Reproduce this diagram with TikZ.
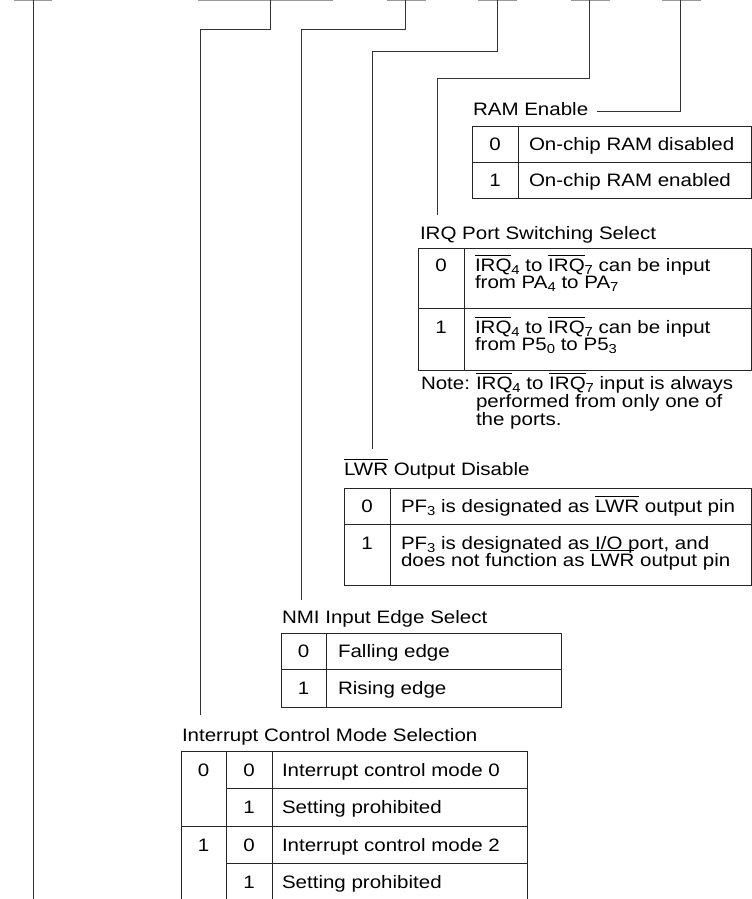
\documentclass[tikz,border=0pt]{standalone}
\usepackage{fontspec}
\setmainfont[FakeStretch=1.14]{Liberation Sans}
\newcommand\ovl[1]{\leavevmode\vbox{\hrule height 0.8bp\kern 3bp\hbox{#1}}}
\newcommand\sbs[1]{\raisebox{-3.2bp}{\fontsize{13bp}{13bp}\selectfont #1}}
\begin{document}
\begin{tikzpicture}[x=1bp,y=-1bp,
  font=\fontsize{18bp}{20bp}\selectfont,
  txt/.style={anchor=base west,inner sep=0pt,outer sep=0pt},
  num/.style={anchor=base,inner sep=0pt,outer sep=0pt},
  conn/.style={draw=black!80,line width=0.9bp},
  tbl/.style={draw=black!85,line width=1bp},
  bar/.style={draw=black!40,line width=1.6bp}]
\useasboundingbox (0,0) rectangle (752,899);
% register bit bars at the top
\draw[bar] (14,0.6) -- (52,0.6);
\draw[bar] (198,0.6) -- (333,0.6);
\draw[bar] (387,0.6) -- (426,0.6);
\draw[bar] (478,0.6) -- (517,0.6);
\draw[bar] (571,0.6) -- (610,0.6);
\draw[bar] (662,0.6) -- (701,0.6);
\coordinate (b1) at (33,0);
\coordinate (b2) at (270,0);
\coordinate (b3) at (405,0);
\coordinate (b4) at (497,0);
\coordinate (b5) at (589,0);
\coordinate (b6) at (680,0);
\coordinate (e1) at (33,900);
\coordinate (e2) at (200,715);
\coordinate (e3) at (301,600);
\coordinate (e4) at (372,449);
\coordinate (e5) at (437,215);

% ---------- RAM Enable ----------
\node[txt] (ram) at (473,115) {RAM Enable};
\draw[tbl] (472,126) rectangle (751,198);
\draw[tbl] (472,162) -- (751,162);
\draw[tbl] (518,126) -- (518,198);
\node[num] (ram0) at (495,150) {0};
\node[txt] (ram0t) at (529,150) {On-chip RAM disabled};
\node[num] (ram1) at (495,186) {1};
\node[txt] (ram1t) at (529,186) {On-chip RAM enabled};

% ---------- IRQ Port Switching Select ----------
\node[txt] (irq) at (420,239) {IRQ Port Switching Select};
\draw[tbl] (418,248) rectangle (751,370);
\draw[tbl] (418,308) -- (751,308);
\draw[tbl] (464,248) -- (464,370);
\node[num] (irq0) at (441,271) {0};
\node[txt] (irq0a) at (475,271) {\ovl{IRQ}\sbs{4} to \ovl{IRQ}\sbs{7} can be input};
\node[txt] (irq0b) at (475,288.5) {from PA\sbs{4} to PA\sbs{7}};
\node[num] (irq1) at (441,333) {1};
\node[txt] (irq1a) at (475,333) {\ovl{IRQ}\sbs{4} to \ovl{IRQ}\sbs{7} can be input};
\node[txt] (irq1b) at (475,350) {from P5\sbs{0} to P5\sbs{3}};
\node[txt] (note) at (421,389) {Note:};
\node[txt] (notea) at (476,389) {\ovl{IRQ}\sbs{4} to \ovl{IRQ}\sbs{7} input is always};
\node[txt] (noteb) at (476,407) {performed from only one of};
\node[txt] (notec) at (476,425) {the ports.};

% ---------- LWR Output Disable ----------
\node[txt] (lwr) at (344,475) {\ovl{LWR} Output Disable};
\draw[tbl] (344,488) rectangle (751,585);
\draw[tbl] (344,524) -- (751,524);
\draw[tbl] (390,488) -- (390,585);
\node[num] (lwr0) at (367,512) {0};
\node[txt] (lwr0t) at (401,512) {PF\sbs{3} is designated as \ovl{LWR} output pin};
\node[num] (lwr1) at (367,549) {1};
\node[txt] (lwr1a) at (401,549) {PF\sbs{3} is designated as I/O port, and};
\node[txt] (lwr1b) at (401,566.5) {does not function as \ovl{LWR} output pin};

% ---------- NMI Input Edge Select ----------
\node[txt] (nmi) at (282,623) {NMI Input Edge Select};
\draw[tbl] (281,633) rectangle (561,707);
\draw[tbl] (281,669) -- (561,669);
\draw[tbl] (326,633) -- (326,707);
\node[num] (nmi0) at (303.5,657) {0};
\node[txt] (nmi0t) at (338,657) {Falling edge};
\node[num] (nmi1) at (303.5,694) {1};
\node[txt] (nmi1t) at (338,694) {Rising edge};

% ---------- Interrupt Control Mode Selection ----------
\node[txt] (icm) at (182,741) {Interrupt Control Mode Selection};
\draw[tbl] (181,905) -- (181,751) -- (527,751) -- (527,905);
\draw[tbl] (226,751) -- (226,905);
\draw[tbl] (272,751) -- (272,905);
\draw[tbl] (226,788) -- (527,788);
\draw[tbl] (181,826) -- (527,826);
\draw[tbl] (226,863) -- (527,863);
\node[num] (icmA0) at (203.5,776) {0};
\node[num] (icmA1) at (203.5,851) {1};
\node[num] (icmB0) at (249,776) {0};
\node[num] (icmB1) at (249,813) {1};
\node[num] (icmB2) at (249,851) {0};
\node[num] (icmB3) at (249,888) {1};
\node[txt] (icmT0) at (282,776) {Interrupt control mode 0};
\node[txt] (icmT1) at (282,813) {Setting prohibited};
\node[txt] (icmT2) at (282,851) {Interrupt control mode 2};
\node[txt] (icmT3) at (282,888) {Setting prohibited};

% ---------- connectors ----------
\draw[conn] (b1) -- (e1);
\draw[conn] (b2) |- (200,29.5) -- (e2);
\draw[conn] (b3) |- (301,29.5) -- (e3);
\draw[conn] (b4) |- (372,51) -- (e4);
\draw[conn] (b5) |- (437,78) -- (e5);
\draw[conn] (b6) |- ([xshift=9bp,yshift=4bp]ram.base east);
\end{tikzpicture}
\end{document}
